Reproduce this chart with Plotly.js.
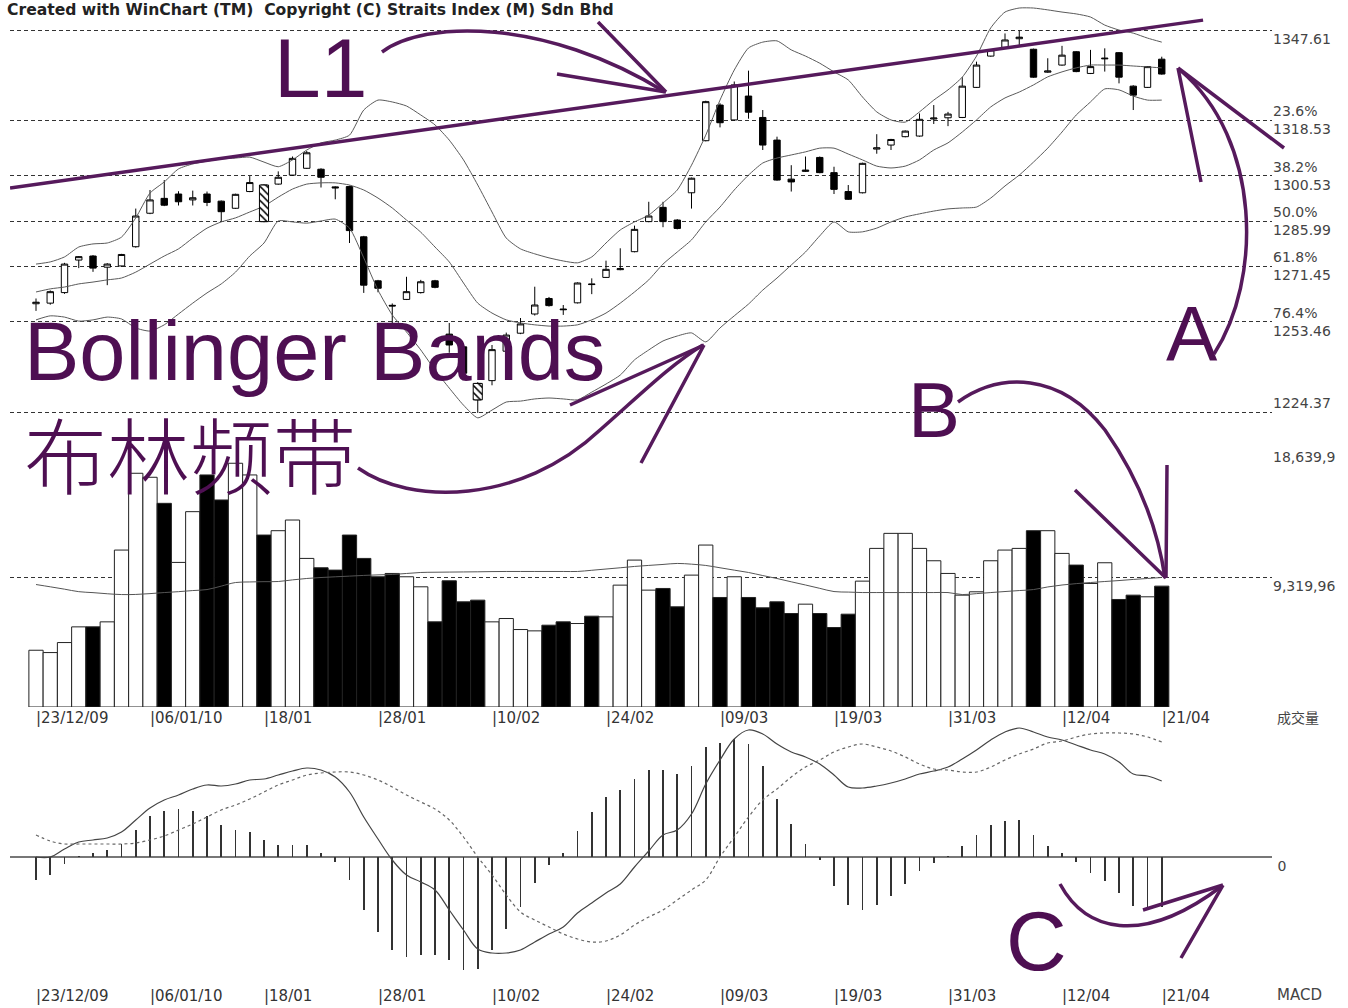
<!DOCTYPE html>
<html>
<head>
<meta charset="utf-8">
<script src="https://cdn.plot.ly/plotly-3.0.1.min.js"></script>
<style>html,body{margin:0;padding:0;background:#fff;}#chart{width:1348px;height:1008px;}</style>
</head>
<body>
<div id="chart"></div>
<script>
// ---------------- DATA ----------------
const tickIdx = [0, 8, 16, 24, 32, 40, 48, 56, 64, 72, 79];
const tickLabels = ['23/12/09', '06/01/10', '18/01', '28/01', '10/02', '24/02', '09/03', '19/03', '31/03', '12/04', '21/04'];

const openP = [1259.3,1259.5,1262.9,1273.4,1274.7,1271.1,1271.5,1277.7,1288.5,1293.3,
  1294.7,1292.8,1294.7,1292.4,1290.1,1295.5,1285.8,1297.9,1300.8,1303.0,
  1302.7,1297.0,1297.1,1280.9,1266.7,1258.8,1260.7,1262.9,1266.7,1249.5,
  1245.4,1228.3,1234.5,1244.0,1249.8,1256.0,1261.0,1257.6,1259.6,1265.7,
  1267.8,1270.3,1276.1,1285.8,1290.4,1286.3,1295.1,1311.9,1323.4,1318.6,
  1326.3,1319.4,1312.1,1299.5,1302.0,1306.5,1301.6,1295.5,1295.1,1309.2,
  1310.5,1313.2,1313.4,1318.9,1319.3,1319.4,1329.1,1339.2,1342.0,1344.8,
  1341.4,1334.0,1336.3,1340.6,1333.6,1338.3,1340.3,1329.5,1329.1,1338.2];
const highP = [1261.0,1263.6,1272.5,1274.7,1275.0,1272.4,1275.4,1290.0,1296.0,1299.2,
  1295.6,1295.8,1295.5,1292.6,1294.8,1300.5,1297.8,1302.0,1306.8,1308.6,
  1303.0,1297.2,1297.4,1281.2,1267.0,1259.4,1268.0,1267.0,1267.0,1253.1,
  1246.0,1234.0,1246.0,1250.0,1254.7,1264.8,1261.5,1258.9,1266.2,1267.5,
  1273.2,1277.2,1284.5,1292.2,1292.2,1286.6,1300.0,1324.8,1324.0,1331.0,
  1334.5,1321.8,1313.2,1304.0,1306.8,1306.8,1303.5,1297.6,1304.8,1314.0,
  1312.5,1315.2,1320.7,1323.4,1321.2,1332.4,1337.4,1341.4,1346.5,1347.4,
  1341.6,1338.5,1342.5,1340.8,1341.2,1341.7,1340.5,1329.8,1336.0,1339.0];
const lowP = [1257.0,1259.0,1262.5,1270.8,1269.6,1265.3,1271.2,1277.4,1288.2,1290.8,
  1291.0,1291.0,1290.8,1285.8,1289.9,1295.3,1285.6,1297.7,1300.6,1302.8,
  1296.8,1293.0,1278.9,1262.8,1263.0,1253.0,1260.5,1262.6,1264.3,1243.5,
  1236.0,1224.1,1233.0,1243.0,1249.5,1255.5,1258.4,1255.7,1259.4,1262.4,
  1267.6,1270.1,1275.9,1285.6,1284.0,1283.3,1290.0,1311.7,1316.2,1318.4,
  1319.0,1308.9,1299.0,1295.5,1301.8,1301.4,1294.7,1292.8,1294.9,1307.7,
  1308.9,1313.0,1313.2,1317.3,1316.6,1319.2,1328.9,1339.0,1341.8,1342.2,
  1332.2,1333.8,1336.1,1334.0,1333.4,1334.2,1330.4,1321.8,1328.9,1333.2];
const closeP = [1259.8,1263.2,1272.1,1274.5,1270.8,1272.1,1275.2,1287.6,1292.8,1291.1,
  1292.2,1293.5,1292.0,1289.0,1294.6,1298.4,1297.6,1300.1,1306.2,1308.0,
  1300.1,1296.7,1282.9,1265.3,1264.3,1258.6,1263.2,1266.4,1264.6,1246.0,
  1236.9,1233.6,1244.5,1249.2,1252.8,1258.9,1258.7,1257.4,1266.0,1265.5,
  1270.4,1270.6,1283.3,1287.6,1285.8,1283.6,1299.8,1324.5,1317.7,1329.9,
  1321.1,1310.5,1299.2,1298.6,1302.4,1301.6,1296.2,1293.0,1304.6,1309.6,
  1312.3,1315.0,1318.8,1319.2,1320.5,1329.5,1336.3,1341.2,1344.4,1345.3,
  1332.4,1334.4,1339.5,1334.2,1335.8,1338.5,1332.4,1326.6,1335.8,1333.4];

const bbUpper = [1272.1,1272.8,1274.4,1277.6,1278.6,1278.9,1280.8,1287.0,1295.0,1298.6,
  1302.8,1304.4,1305.3,1306.0,1306.3,1306.6,1305.0,1303.5,1305.7,1308.9,
  1311.2,1312.1,1313.7,1321.8,1325.0,1324.4,1323.1,1320.2,1317.0,1312.1,
  1305.7,1297.6,1288.9,1280.5,1277.0,1275.4,1274.1,1273.1,1272.5,1274.4,
  1278.9,1283.1,1285.7,1287.9,1291.8,1296.0,1304.0,1313.7,1325.0,1334.7,
  1341.8,1343.7,1344.1,1341.2,1339.2,1336.9,1334.1,1331.5,1326.0,1321.2,
  1318.6,1317.9,1321.2,1325.0,1328.3,1332.4,1339.2,1348.3,1353.4,1354.7,
  1354.7,1354.1,1353.4,1352.8,1351.8,1349.2,1347.6,1346.6,1345.0,1343.7];
const bbMid = [1263.1,1264.1,1264.7,1265.7,1266.3,1267.0,1267.6,1269.5,1272.1,1274.7,
  1277.0,1280.5,1283.7,1285.7,1287.0,1288.9,1290.8,1293.7,1296.3,1297.9,
  1298.3,1298.3,1297.6,1296.0,1293.4,1290.2,1286.3,1282.4,1277.6,1272.8,
  1266.0,1259.5,1256.3,1254.1,1253.1,1252.5,1252.1,1252.1,1252.5,1254.1,
  1256.3,1259.5,1263.1,1267.0,1272.1,1276.0,1279.9,1285.7,1290.5,1296.0,
  1300.8,1304.7,1306.3,1307.3,1308.3,1309.5,1309.5,1307.6,1305.7,1303.7,
  1303.1,1303.7,1305.7,1308.9,1311.2,1314.7,1318.6,1322.8,1325.7,1327.6,
  1329.9,1332.5,1334.1,1335.4,1336.3,1336.3,1336.3,1336.0,1335.7,1335.4];
const bbLower = [1254.1,1255.4,1255.0,1253.7,1254.1,1255.0,1254.4,1251.5,1250.5,1252.5,
  1256.0,1259.5,1262.8,1265.7,1269.5,1274.7,1278.9,1286.0,1285.7,1285.3,
  1286.0,1286.6,1283.7,1274.1,1263.7,1255.7,1250.2,1244.4,1237.9,1232.1,
  1226.6,1222.5,1225.0,1227.6,1227.9,1228.6,1228.9,1228.6,1228.3,1230.8,
  1233.4,1236.3,1241.2,1244.4,1247.3,1248.9,1249.9,1247.0,1251.5,1255.4,
  1259.2,1263.7,1267.6,1271.8,1276.0,1281.2,1285.7,1282.5,1282.5,1283.7,
  1285.7,1287.3,1288.3,1289.2,1289.9,1290.2,1290.5,1293.4,1297.3,1300.8,
  1305.0,1309.5,1314.7,1320.2,1324.4,1328.6,1328.3,1326.3,1325.0,1325.0];

const volume = [4085,3917,4638,5767,5767,6128,11294,16821,16533,14658,
  10405,14058,16701,14899,17542,16701,12375,12688,13457,10693,
  10020,9852,12375,10693,9372,9612,9372,8651,6128,9083,
  7569,7690,6128,6368,5575,5479,5887,6128,6008,6536,
  6488,8771,10573,8411,8531,7209,9492,11655,7882,9372,
  7882,7137,7569,6728,7401,6728,5719,6680,9059,11414,
  12496,12496,11414,10525,9612,8050,8290,10525,11294,11414,
  12688,12688,11054,10213,8891,10381,7738,8050,7930,8699];
const volMA = [8815,8650,8480,8300,8230,8150,8092,8100,8160,8237,
  8300,8380,8453,8700,8959,9000,9020,9031,9150,9250,
  9320,9370,9420,9470,9510,9537,9610,9682,9700,9710,
  9720,9730,9745,9754,9754,9754,9754,9754,9754,9840,
  9930,10020,10115,10190,10260,10332,10280,10187,10020,9850,
  9682,9460,9248,9010,8780,8540,8309,8270,8237,8237,
  8237,8237,8237,8237,8237,8092,8160,8237,8310,8380,
  8453,8640,8780,8880,8960,9031,9100,9180,9250,9320];

const macdHist = [-2.3,-1.8,-0.7,0.1,0.4,0.7,1.3,2.7,4.1,4.6,
  4.8,4.6,4.1,3.2,2.7,2.5,1.7,1.2,1.2,1.2,
  0.4,-0.5,-2.3,-5.3,-7.5,-9.3,-10.0,-9.8,-9.8,-10.3,
  -11.3,-11.2,-9.3,-7.2,-5.0,-2.6,-0.8,0.4,2.6,4.5,
  6.0,6.7,7.8,8.7,8.7,8.3,9.1,11.0,11.4,11.8,
  11.3,9.1,5.8,3.3,1.3,-0.3,-2.9,-4.8,-5.3,-4.8,
  -3.9,-2.7,-1.4,-0.6,0.1,1.1,2.2,3.2,3.6,3.7,
  2.2,1.1,0.4,-0.5,-1.6,-2.4,-3.6,-4.9,-5.2,-5.0];
const macdLine = [0.0,0.0,0.8,1.5,1.7,1.9,2.5,3.7,4.9,5.7,
  6.2,6.8,7.2,7.1,7.3,7.7,7.8,8.2,8.6,8.9,
  8.7,8.0,6.5,4.0,1.8,-0.3,-1.8,-2.5,-3.3,-5.3,
  -7.3,-9.2,-9.6,-9.6,-9.3,-8.5,-7.7,-7.0,-5.6,-4.6,
  -3.6,-2.7,-1.0,0.6,2.2,2.7,4.3,7.3,9.7,11.8,
  12.7,12.3,11.3,10.5,10.0,9.3,8.2,7.0,6.9,7.1,
  7.4,7.8,8.3,8.6,9.0,9.8,10.7,11.7,12.5,12.9,
  12.5,12.0,11.7,11.2,10.7,10.3,9.5,8.3,8.1,7.6];
const macdSignal = [2.2,1.6,1.3,1.3,1.3,1.3,1.3,1.4,1.7,2.1,
  2.7,3.3,4.0,4.7,5.2,5.8,6.5,7.2,7.7,8.2,
  8.4,8.5,8.5,8.2,7.7,7.0,6.2,5.5,4.8,3.7,
  2.0,0.0,-1.8,-3.8,-5.5,-6.3,-7.0,-7.7,-8.2,-8.5,
  -8.4,-7.8,-6.8,-6.0,-5.3,-4.3,-3.3,-2.3,0.0,2.0,
  4.0,5.7,6.8,8.0,9.0,9.7,10.5,11.0,11.3,11.0,
  10.6,10.0,9.3,8.8,8.7,8.5,8.5,9.0,9.7,10.3,
  10.8,11.4,11.6,12.0,12.3,12.4,12.4,12.3,12.0,11.5];

const fibLevels = [1347.61, 1318.53, 1300.53, 1285.99, 1271.45, 1253.46, 1224.37];
const fibPct = ['', '23.6%', '38.2%', '50.0%', '61.8%', '76.4%', ''];
const volLevels = [9319.96, 18639.9];
const volLabels = ['9,319,96', '18,639,9'];
const trendL1 = {x: [-1.82, 81.9], y: [1296.6, 1350.8]};

// ---------------- LAYOUT HELPERS ----------------
const N = closeP.length;
const idx = Array.from({length: N}, (_, i) => i);
const X0 = -1.8246, X1 = 86.737;
const PLOT_W = 1262, PLOT_H = 985, LEFT = 10;
const PX = x => (x - LEFT) / PLOT_W;
const PY = y => 1 - y / PLOT_H;
function toPaper(s) {
  let k = 0;
  return s.replace(/-?\d+(\.\d+)?/g, m => {
    const v = parseFloat(m);
    const out = (k % 2 === 0) ? PX(v) : PY(v);
    k++;
    return out.toFixed(5);
  });
}
const PURPLE = '#561a5c';
const TXT = '#4e0f52';
const PRICE_RANGE = [1212.77, 1357.29];

// derived colours
const upDay = idx.map(i => i === 0 ? true : closeP[i] >= closeP[i - 1]);
const volColors = upDay.map(u => u ? '#ffffff' : '#000000');
const hatchIdx = idx.filter(i => i > 0 && closeP[i] > openP[i] && closeP[i] < closeP[i - 1]);

const bandLine = {color: '#5a5a5a', width: 1, shape: 'spline', smoothing: 0.6};
const traces = [
  {type: 'scatter', mode: 'lines', x: idx, y: bbUpper, xaxis: 'x', yaxis: 'y', line: bandLine, hoverinfo: 'skip'},
  {type: 'scatter', mode: 'lines', x: idx, y: bbMid, xaxis: 'x', yaxis: 'y', line: bandLine, hoverinfo: 'skip'},
  {type: 'scatter', mode: 'lines', x: idx, y: bbLower, xaxis: 'x', yaxis: 'y', line: bandLine, hoverinfo: 'skip'},
  {type: 'candlestick', x: idx, open: openP, high: highP, low: lowP, close: closeP, xaxis: 'x', yaxis: 'y',
    whiskerwidth: 0,
    increasing: {line: {color: '#000', width: 1}, fillcolor: '#ffffff'},
    decreasing: {line: {color: '#000', width: 1}, fillcolor: '#000000'},
    hoverinfo: 'skip'},
  // hatched bodies (white candle that still closed below the previous close), drawn on an overlay axis so they sit on top
  {type: 'bar', x: hatchIdx, base: hatchIdx.map(i => openP[i]), y: hatchIdx.map(i => closeP[i] - openP[i]),
    xaxis: 'x', yaxis: 'y4', width: 0.64,
    marker: {color: '#ffffff', line: {color: '#000', width: 1},
      pattern: {shape: '\\', fgcolor: '#000', bgcolor: '#fff', size: 5, solidity: 0.3}},
    hoverinfo: 'skip'},
  {type: 'bar', x: idx, y: volume, xaxis: 'x', yaxis: 'y2', width: 1,
    marker: {color: volColors, line: {color: '#222', width: 1}}, hoverinfo: 'skip'},
  {type: 'scatter', mode: 'lines', x: idx, y: volMA, xaxis: 'x', yaxis: 'y2',
    line: {color: '#555', width: 1, shape: 'spline'}, hoverinfo: 'skip'},
  {type: 'bar', x: idx, y: macdHist, xaxis: 'x2', yaxis: 'y3', width: 0.13,
    marker: {color: '#333', line: {width: 0}}, hoverinfo: 'skip'},
  {type: 'scatter', mode: 'lines', x: idx, y: macdLine, xaxis: 'x2', yaxis: 'y3',
    line: {color: '#444', width: 1.2, shape: 'spline'}, hoverinfo: 'skip'},
  {type: 'scatter', mode: 'lines', x: idx, y: macdSignal, xaxis: 'x2', yaxis: 'y3',
    line: {color: '#666', width: 1.2, dash: '3px,3px', shape: 'spline'}, hoverinfo: 'skip'}
];

const LBL = 'DejaVu Sans, Verdana, sans-serif';
const axFont = {family: LBL, size: 14, color: '#444'};
const NB = '\u00a0';
const fibText = fibLevels.map((v, k) => {
  const val = v.toFixed(2);
  if (k === fibLevels.length - 1) return val + '<br>' + NB;
  return (fibPct[k] ? fibPct[k] : NB) + '<br>' + val;
});
const xTickText = tickLabels.map(t => '|' + t);

const xCommon = {range: [X0, X1], tickvals: tickIdx, ticktext: xTickText, ticklabelposition: 'outside right',
  ticks: '', showgrid: false, zeroline: false, showline: false,
  tickfont: {family: LBL, size: 15, color: '#333'}, fixedrange: true};
const gridStyle = {showgrid: true, griddash: '4px,3px', gridcolor: '#333', gridwidth: 1};

const arrows = [
  'M382,52 C425,20 545,18 665,92',
  'M557,74 L666,92 M598,22 L666,92',
  'M358,468 C410,505 520,505 600,430 C640,395 670,365 703,345',
  'M570,405 L704,345 M641,463 L704,345',
  'M1214,354 C1262,280 1262,140 1180,70',
  'M1284,148 L1178,68 M1201,182 L1178,68',
  'M958,402 C1000,372 1060,372 1105,430 C1140,480 1158,530 1165,578',
  'M1075,490 L1166,578 M1167,465 L1166,578',
  'M1060,884 C1085,930 1140,948 1222,886',
  'M1143,910 L1223,885 M1181,958 L1223,885'
];
const shapes = [
  {type: 'line', xref: 'x', yref: 'y', x0: trendL1.x[0], x1: trendL1.x[1], y0: trendL1.y[0], y1: trendL1.y[1],
    line: {color: PURPLE, width: 3.5}}
].concat(arrows.map(p => ({type: 'path', xref: 'paper', yref: 'paper', path: toPaper(p),
  line: {color: PURPLE, width: 3.5}, fillcolor: 'rgba(0,0,0,0)'})));

const bigFont = s => ({family: 'Liberation Sans, Arial, sans-serif', size: s, color: TXT});
const annotations = [
  {text: 'L1', x: PX(320), y: PY(68), font: bigFont(84)},
  {text: 'Bollinger Bands<br><span style="font-weight:300">布林频带</span>', x: PX(22), y: PY(405), xanchor: 'left', align: 'left',
    font: {family: 'Liberation Sans, Noto Sans CJK SC, sans-serif', size: 83, color: TXT}},
  {text: 'A', x: PX(1192), y: PY(334), font: bigFont(77)},
  {text: 'B', x: PX(934), y: PY(410), font: bigFont(78)},
  {text: 'C', x: PX(1036), y: PY(941), font: bigFont(84)},
  {text: '成交量', x: PX(1275), y: PY(717), xanchor: 'left', font: {family: 'Noto Sans CJK SC, sans-serif', size: 14, color: '#444'}},
  {text: 'MACD', x: PX(1275), y: PY(995), xanchor: 'left', font: {family: LBL, size: 15, color: '#444'}}
].map(a => Object.assign({xref: 'paper', yref: 'paper', showarrow: false, xanchor: 'center', yanchor: 'middle'}, a));

const layout = {
  width: 1348, height: 1008,
  margin: {l: LEFT, r: 1348 - LEFT - PLOT_W, t: 0, b: 1008 - PLOT_H},
  paper_bgcolor: '#ffffff', plot_bgcolor: '#ffffff',
  showlegend: false, boxgap: 0.36, bargap: 0,
  title: {text: 'Created with WinChart (TM)' + NB + NB + 'Copyright (C) Straits Index (M) Sdn Bhd',
    x: 7 / 1348, xanchor: 'left', xref: 'container', y: 1 - 10 / 1008, yanchor: 'middle', yref: 'container',
    font: {family: 'DejaVu Sans, sans-serif', size: 15.6, color: '#222', weight: 'bold'}},
  xaxis: Object.assign({}, xCommon, {anchor: 'y2', rangeslider: {visible: false}}),
  xaxis2: Object.assign({}, xCommon, {anchor: 'y3'}),
  yaxis: Object.assign({domain: [PY(448), 1], range: PRICE_RANGE, side: 'right', anchor: 'x',
    tickvals: fibLevels, ticktext: fibText, ticks: '', zeroline: false, tickfont: axFont, fixedrange: true}, gridStyle),
  yaxis4: {overlaying: 'y', range: PRICE_RANGE, side: 'right', anchor: 'x', visible: false, showgrid: false, zeroline: false, fixedrange: true},
  yaxis2: Object.assign({domain: [PY(707), PY(448)], range: [0, 18639.9], side: 'right', anchor: 'x',
    tickvals: volLevels, ticktext: volLabels.map(t => NB + '<br>' + t), ticks: '', zeroline: false, tickfont: axFont, fixedrange: true}, gridStyle),
  yaxis3: {domain: [0, PY(725)], range: [-12.8, 13.2], side: 'right', anchor: 'x2',
    tickvals: [0], ticktext: [NB + '<br>' + NB + '0'], ticks: '', showgrid: false,
    zeroline: true, zerolinecolor: '#777', zerolinewidth: 2, tickfont: axFont, fixedrange: true},
  shapes: shapes,
  annotations: annotations
};

Plotly.newPlot('chart', traces, layout, {staticPlot: true, displayModeBar: false});
</script>
</body>
</html>
